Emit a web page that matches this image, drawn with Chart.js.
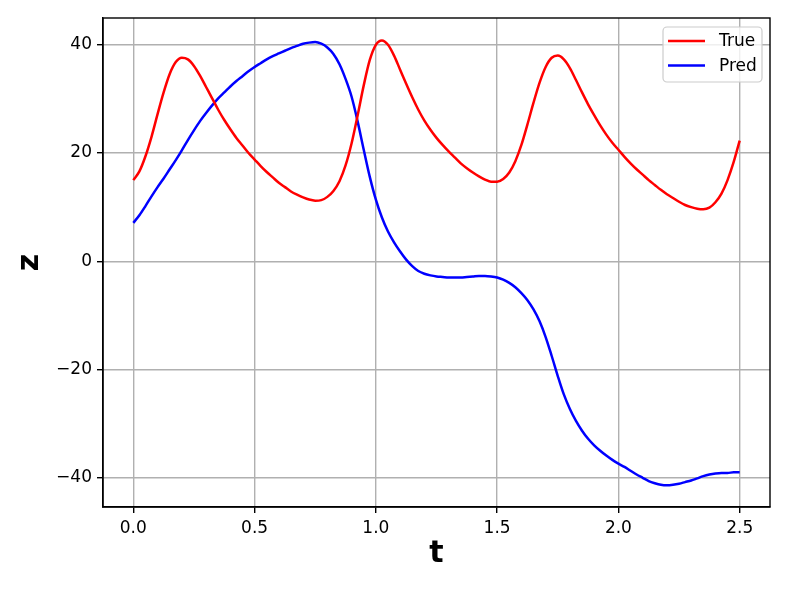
<!DOCTYPE html>
<html>
<head>
<meta charset="utf-8">
<script src="https://cdn.jsdelivr.net/npm/chart.js@4"></script>
<style>
  html, body { margin: 0; padding: 0; background: #fff; }
  canvas { display: block; }
</style>
</head>
<body>
<canvas id="c" width="789" height="592"></canvas>
<script>
// Sample times (t), step 0.025 from 0 to 2.5
const tValues = [
  0.000,0.025,0.050,0.075,0.100,0.125,0.150,0.175,0.200,0.225,
  0.250,0.275,0.300,0.325,0.350,0.375,0.400,0.425,0.450,0.475,
  0.500,0.525,0.550,0.575,0.600,0.625,0.650,0.675,0.700,0.725,
  0.750,0.775,0.800,0.825,0.850,0.875,0.900,0.925,0.950,0.975,
  1.000,1.025,1.050,1.075,1.100,1.125,1.150,1.175,1.200,1.225,
  1.250,1.275,1.300,1.325,1.350,1.375,1.400,1.425,1.450,1.475,
  1.500,1.525,1.550,1.575,1.600,1.625,1.650,1.675,1.700,1.725,
  1.750,1.775,1.800,1.825,1.850,1.875,1.900,1.925,1.950,1.975,
  2.000,2.025,2.050,2.075,2.100,2.125,2.150,2.175,2.200,2.225,
  2.250,2.275,2.300,2.325,2.350,2.375,2.400,2.425,2.450,2.475,
  2.500
];

// "True" series (red)
const trueValues = [
  15.0,16.6,19.4,23.0,27.2,31.2,34.6,36.8,37.6,37.3,
  36.1,34.3,32.2,30.1,28.0,26.1,24.4,22.8,21.4,20.0,
  18.8,17.6,16.5,15.5,14.5,13.7,12.9,12.3,11.8,11.4,
  11.2,11.3,11.9,13.0,14.8,17.7,21.8,27.0,32.5,37.2,
  40.0,40.8,40.0,38.0,35.4,32.8,30.3,28.0,26.0,24.3,
  22.8,21.5,20.3,19.2,18.1,17.2,16.4,15.7,15.1,14.7,
  14.7,15.2,16.4,18.5,21.5,25.3,29.3,33.0,35.9,37.6,
  38.0,37.3,35.7,33.5,31.2,29.0,27.0,25.1,23.4,21.9,
  20.6,19.3,18.1,17.0,16.0,15.0,14.1,13.2,12.4,11.7,
  11.0,10.4,10.0,9.7,9.6,9.9,10.9,12.5,15.0,18.3,
  22.3
];

// "Pred" series (blue)
const predValues = [
  7.1,8.5,10.2,12.0,13.7,15.3,17.0,18.7,20.5,22.4,
  24.2,25.9,27.4,28.8,30.1,31.2,32.3,33.3,34.2,35.1,
  35.9,36.6,37.3,37.9,38.4,38.9,39.4,39.8,40.2,40.4,
  40.5,40.2,39.5,38.3,36.4,33.7,30.4,25.8,20.6,15.6,
  11.4,8.1,5.5,3.5,1.8,0.3,-0.9,-1.8,-2.3,-2.6,
  -2.8,-2.9,-3.0,-3.0,-3.0,-2.9,-2.8,-2.7,-2.7,-2.8,
  -3.0,-3.4,-4.0,-4.8,-5.9,-7.2,-8.9,-11.1,-14.0,-17.5,
  -21.2,-24.6,-27.3,-29.5,-31.3,-32.8,-34.0,-35.0,-35.9,-36.7,
  -37.4,-38.0,-38.7,-39.4,-40.0,-40.6,-41.0,-41.3,-41.4,-41.3,
  -41.1,-40.8,-40.5,-40.1,-39.7,-39.4,-39.2,-39.1,-39.1,-39.0,
  -39.0
];

const xTicks = [0, 0.5, 1.0, 1.5, 2.0, 2.5];
const yTicks = [-40, -20, 0, 20, 40];
const seriesLabels = ['True', 'Pred'];
const xTitle = 't';
const yTitle = 'z';

const FONT = 'DejaVu Sans';

const toPoints = vals => vals.map((v, i) => ({ x: tValues[i], y: v }));

const frameAndLegend = {
  id: 'frameAndLegend',
  afterDraw(chart) {
    const ctx = chart.ctx;
    const a = chart.chartArea;
    ctx.save();
    // axes frame on all four sides
    ctx.strokeStyle = '#000';
    ctx.lineWidth = 1.4;
    ctx.strokeRect(a.left, a.top, a.right - a.left, a.bottom - a.top);

    // legend inside the plot, upper right
    const w = 99, h = 55;
    const bx = a.right - 8 - w, by = a.top + 9;
    const r = 4;
    ctx.beginPath();
    ctx.moveTo(bx + r, by);
    ctx.lineTo(bx + w - r, by);
    ctx.arcTo(bx + w, by, bx + w, by + r, r);
    ctx.lineTo(bx + w, by + h - r);
    ctx.arcTo(bx + w, by + h, bx + w - r, by + h, r);
    ctx.lineTo(bx + r, by + h);
    ctx.arcTo(bx, by + h, bx, by + h - r, r);
    ctx.lineTo(bx, by + r);
    ctx.arcTo(bx, by, bx + r, by, r);
    ctx.closePath();
    ctx.fillStyle = 'rgba(255,255,255,0.8)';
    ctx.fill();
    ctx.strokeStyle = '#cccccc';
    ctx.lineWidth = 1.2;
    ctx.stroke();

    chart.data.datasets.forEach((ds, i) => {
      const cy = by + 14 + i * 24.5;
      ctx.beginPath();
      ctx.strokeStyle = ds.borderColor;
      ctx.lineWidth = 2.5;
      ctx.moveTo(bx + 5, cy);
      ctx.lineTo(bx + 42, cy);
      ctx.stroke();
      ctx.fillStyle = '#000';
      ctx.font = '17px "' + FONT + '"';
      ctx.textAlign = 'left';
      ctx.textBaseline = 'middle';
      ctx.fillText(ds.label, bx + 56, cy + 1);
    });
    ctx.restore();
  }
};

new Chart(document.getElementById('c'), {
  type: 'line',
  data: {
    datasets: [
      {
        label: seriesLabels[0],
        data: toPoints(trueValues),
        borderColor: '#ff0000',
        backgroundColor: '#ff0000',
        borderWidth: 2.5,
        pointRadius: 0,
        cubicInterpolationMode: 'monotone',
        fill: false
      },
      {
        label: seriesLabels[1],
        data: toPoints(predValues),
        borderColor: '#0000ff',
        backgroundColor: '#0000ff',
        borderWidth: 2.5,
        pointRadius: 0,
        cubicInterpolationMode: 'monotone',
        fill: false
      }
    ]
  },
  options: {
    responsive: false,
    animation: false,
    devicePixelRatio: 1,
    layout: { padding: { top: 18, right: 19, left: 0, bottom: 0 } },
    plugins: {
      legend: { display: false },
      tooltip: { enabled: false }
    },
    scales: {
      x: {
        type: 'linear',
        min: -0.125,
        max: 2.625,
        afterBuildTicks: s => { s.ticks = xTicks.map(v => ({ value: v })); },
        afterFit: s => { s.height = 85; },
        ticks: {
          font: { family: FONT, size: 17 },
          color: '#000',
          padding: 5,
          maxRotation: 0,
          autoSkip: false,
          callback: v => Number(v).toFixed(1)
        },
        grid: {
          color: '#b0b0b0',
          lineWidth: 1.4,
          tickColor: '#000',
          tickLength: 6,
          drawTicks: true
        },
        border: { display: true, color: '#000', width: 1.4 },
        title: {
          display: true,
          text: xTitle,
          font: { family: FONT, size: 30, weight: 'bold', lineHeight: 1 },
          color: '#000',
          padding: { top: 0, bottom: 23 }
        }
      },
      y: {
        type: 'linear',
        min: -45.4,
        max: 44.95,
        afterBuildTicks: s => { s.ticks = yTicks.map(v => ({ value: v })); },
        afterFit: s => { s.width = 103; },
        ticks: {
          font: { family: FONT, size: 17 },
          color: '#000',
          padding: 5,
          autoSkip: false,
          callback: v => (v < 0 ? '\u2212' + Math.abs(v) : String(v))
        },
        grid: {
          color: '#b0b0b0',
          lineWidth: 1.4,
          tickColor: '#000',
          tickLength: 6,
          drawTicks: true
        },
        border: { display: true, color: '#000', width: 1.4 },
        title: {
          display: true,
          text: yTitle,
          font: { family: FONT, size: 30, weight: 'bold', lineHeight: 1 },
          color: '#000',
          padding: { top: 15, bottom: 0 }
        }
      }
    }
  },
  plugins: [frameAndLegend]
});
</script>
</body>
</html>
